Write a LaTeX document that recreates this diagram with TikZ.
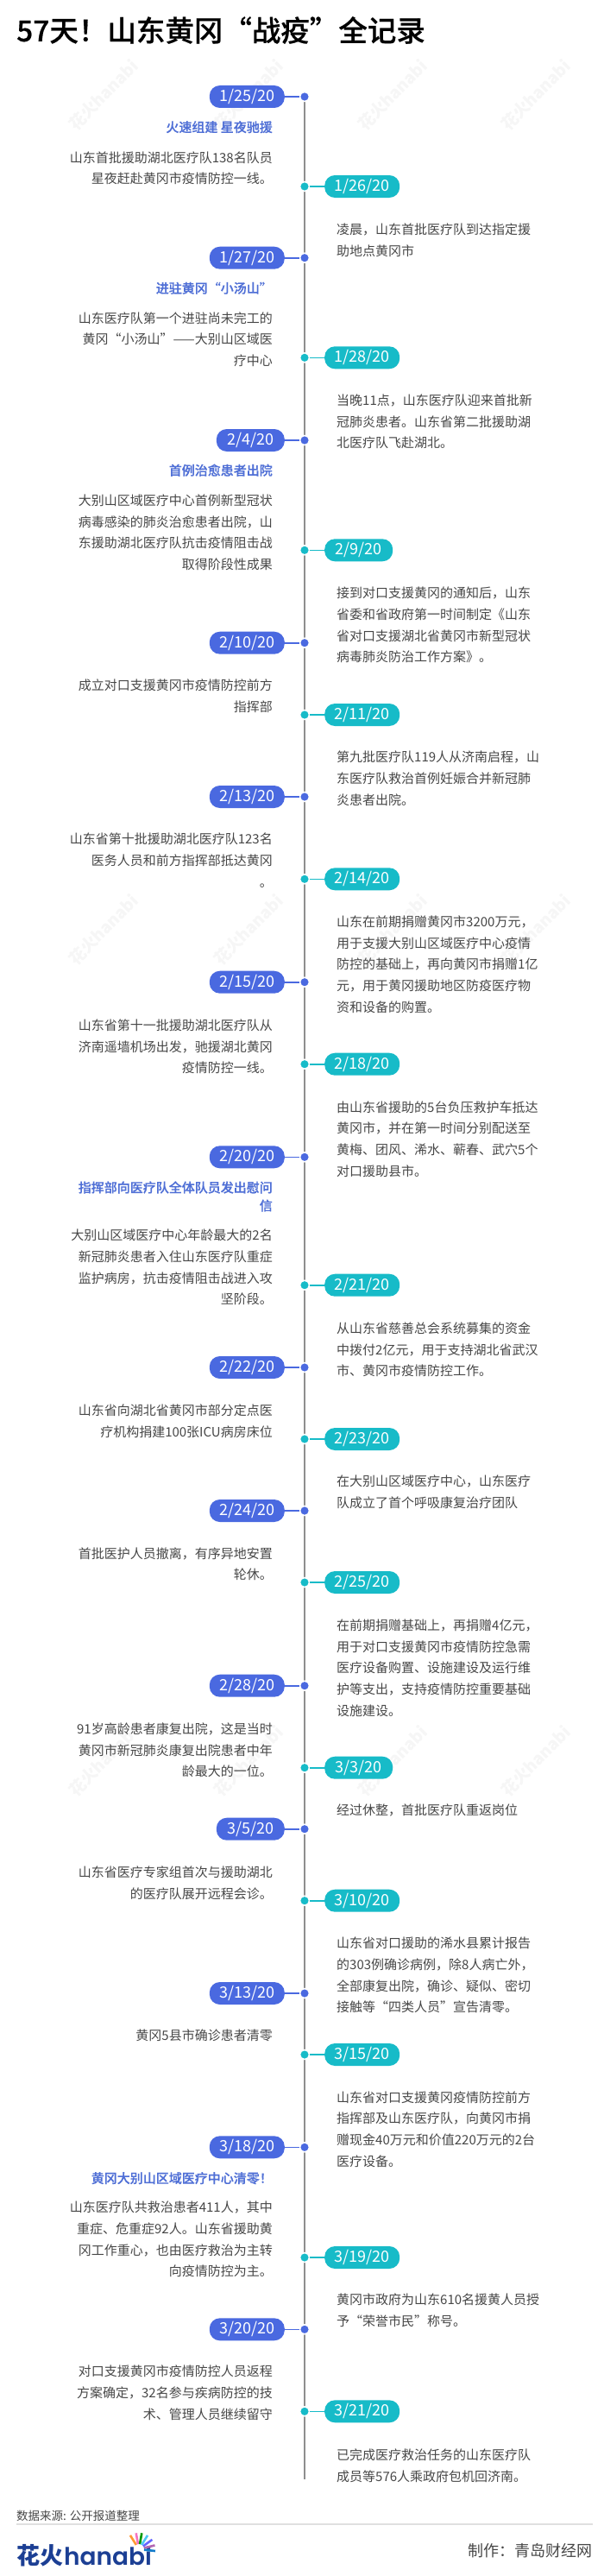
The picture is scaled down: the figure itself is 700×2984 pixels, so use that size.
\documentclass[tikz,border=0pt]{standalone}
\usepackage{fontspec}
\setmainfont{Noto Sans CJK SC}
\newfontfamily\medf{Noto Sans CJK SC Medium}[FakeBold=0.5]
\newfontfamily\logolat{Poppins}[UprightFont=* SemiBold]
\definecolor{leftc}{HTML}{4A69E0}
\definecolor{rightc}{HTML}{17BBC8}
\definecolor{bodyc}{HTML}{474747}
\definecolor{subc}{HTML}{4F6FD6}
\definecolor{spinec}{HTML}{8E8E8E}
\definecolor{markc}{HTML}{F6F6F6}
\definecolor{logoc}{HTML}{1C3F94}
\tikzset{
  x=1pt,y=-1pt,
  pillbase/.style={rectangle,rounded corners=12pt,minimum height=26pt,inner sep=0pt,text=white,font=\fontsize{18}{20}\selectfont},
  lpillst/.style={pillbase,fill=leftc,anchor=east},
  rpillst/.style={pillbase,fill=rightc,anchor=west},
  dotl/.style={circle,fill=leftc,draw=white,line width=1.5pt,minimum size=11pt,inner sep=0pt},
  dotr/.style={circle,fill=rightc,draw=white,line width=1.5pt,minimum size=11pt,inner sep=0pt},
  linkl/.style={draw=leftc,line width=1.6pt},
  linkr/.style={draw=rightc,line width=1.6pt},
  bodyl/.style={anchor=north east,align=right,inner sep=0pt,text=bodyc,font=\fontsize{15}{24.7}\selectfont},
  bodyr/.style={anchor=north west,align=left,inner sep=0pt,text=bodyc,font=\fontsize{15}{24.7}\selectfont},
  subt/.style={anchor=north east,align=right,inner sep=0pt,text=subc,font=\fontsize{15}{21}\selectfont\medf},
  spine/.style={draw=spinec,line width=1.6pt},
  wmark/.style={rotate=45,text=markc,font=\fontsize{19}{20}\selectfont\bfseries,inner sep=0pt},
}
\newcommand{\lft}[4]{%
  \node[dotl] (d#1) at (353,#3) {};
  \node[lpillst,minimum width=#4pt] (p#1) at (330,#3) {#2};
  \draw[linkl] (p#1.east) -- (d#1.west);
}
\newcommand{\rgt}[4]{%
  \node[dotr] (d#1) at (353,#3) {};
  \node[rpillst,minimum width=#4pt] (p#1) at (376,#3) {#2};
  \draw[linkr] (d#1.east) -- (p#1.west);
}
\newcommand{\st}{\rule{0pt}{12.5pt}}
% first-line centre y -> node top = y - 6.8
\newcommand{\tl}[3]{\node[bodyl] (t#1) at (316,{#2-6.8}) {\st #3};}
\newcommand{\tr}[3]{\node[bodyr] (t#1) at (390,{#2-6.8}) {\st #3};}
\newcommand{\sbt}[3]{\node[subt] (s#1) at (316,{#2-6.8}) {\st #3};}
\begin{document}
\begin{tikzpicture}
\useasboundingbox (0,0) rectangle (700,2984);
\fill[white] (0,0) rectangle (700,2984);
% watermarks
\foreach \wy/\wn in {110/a,1077/b,2040/c}{
  \node[wmark] (wm1\wn) at (120,\wy) {花火hanabi};
  \node[wmark] (wm2\wn) at (288,\wy) {花火hanabi};
  \node[wmark] (wm3\wn) at (455,\wy) {花火hanabi};
  \node[wmark] (wm4\wn) at (621,\wy) {花火hanabi};
}
\node[anchor=west,inner sep=0pt,font=\fontsize{33.5}{36}\selectfont\medf,text=black] (title) at (19,35) {57天！山东黄冈“战疫”全记录};
% spine
\coordinate (top) at (353,112);
\coordinate (bot) at (353,2872);
\draw[spine] (top) -- (bot);
% dates
\lft{a}{1/25/20}{112}{87}
\rgt{b}{1/26/20}{216}{87}
\lft{c}{1/27/20}{298.7}{87}
\rgt{d}{1/28/20}{414.3}{87}
\lft{e}{2/4/20}{510}{79}
\rgt{f}{2/9/20}{637.3}{79}
\lft{g}{2/10/20}{744.7}{87}
\rgt{h}{2/11/20}{828}{87}
\lft{i}{2/13/20}{923}{87}
\rgt{j}{2/14/20}{1018.3}{87}
\lft{k}{2/15/20}{1137.7}{87}
\rgt{l}{2/18/20}{1232.7}{87}
\lft{m}{2/20/20}{1340.3}{87}
\rgt{n}{2/21/20}{1488.7}{87}
\lft{o}{2/22/20}{1584}{87}
\rgt{q}{2/23/20}{1667}{87}
\lft{r}{2/24/20}{1750}{87}
\rgt{s}{2/25/20}{1833}{87}
\lft{u}{2/28/20}{1952.7}{87}
\rgt{v}{3/3/20}{2047.7}{79}
\lft{w}{3/5/20}{2118.7}{79}
\rgt{x}{3/10/20}{2201.7}{87}
\lft{y}{3/13/20}{2309}{87}
\rgt{z}{3/15/20}{2380}{87}
\lft{A}{3/18/20}{2487.3}{87}
\rgt{B}{3/19/20}{2615}{87}
\lft{C}{3/20/20}{2698.3}{87}
\rgt{D}{3/21/20}{2793.3}{87}
% texts
\sbt{a}{146.7}{火速组建 星夜驰援}
\tl{a}{182}{山东首批援助湖北医疗队138名队员\\星夜赶赴黄冈市疫情防控一线。}
\tr{b}{265.3}{凌晨，山东首批医疗队到达指定援\\助地点黄冈市}
\sbt{c}{333.3}{进驻黄冈“小汤山”}
\tl{c}{368}{山东医疗队第一个进驻尚未完工的\\黄冈“小汤山”——大别山区域医\\疗中心}
\tr{d}{463.3}{当晚11点，山东医疗队迎来首批新\\冠肺炎患者。山东省第二批援助湖\\北医疗队飞赴湖北。}
\sbt{e}{544.3}{首例治愈患者出院}
\tl{e}{579.3}{大别山区域医疗中心首例新型冠状\\病毒感染的肺炎治愈患者出院，山\\东援助湖北医疗队抗击疫情阻击战\\取得阶段性成果}
\tr{f}{686.7}{接到对口支援黄冈的通知后，山东\\省委和省政府第一时间制定《山东\\省对口支援湖北省黄冈市新型冠状\\病毒肺炎防治工作方案》。}
\tl{g}{793.3}{成立对口支援黄冈市疫情防控前方\\指挥部}
\tr{h}{876.7}{第九批医疗队119人从济南启程，山\\东医疗队救治首例妊娠合并新冠肺\\炎患者出院。}
\tl{i}{971.7}{山东省第十批援助湖北医疗队123名\\医务人员和前方指挥部抵达黄冈\\。}
\tr{j}{1067.3}{山东在前期捐赠黄冈市3200万元，\\用于支援大别山区域医疗中心疫情\\防控的基础上，再向黄冈市捐赠1亿\\元，用于黄冈援助地区防疫医疗物\\资和设备的购置。}
\tl{k}{1187.3}{山东省第十一批援助湖北医疗队从\\济南遥墙机场出发，驰援湖北黄冈\\疫情防控一线。}
\tr{l}{1282}{由山东省援助的5台负压救护车抵达\\黄冈市，并在第一时间分别配送至\\黄梅、团风、浠水、蕲春、武穴5个\\对口援助县市。}
\sbt{m}{1375}{指挥部向医疗队全体队员发出慰问\\信}
\tl{m}{1430.7}{大别山区域医疗中心年龄最大的2名\\新冠肺炎患者入住山东医疗队重症\\监护病房，抗击疫情阻击战进入攻\\坚阶段。}
\tr{n}{1538.3}{从山东省慈善总会系统募集的资金\\中拨付2亿元，用于支持湖北省武汉\\市、黄冈市疫情防控工作。}
\tl{o}{1633.3}{山东省向湖北省黄冈市部分定点医\\疗机构捐建100张ICU病房床位}
\tr{q}{1715.7}{在大别山区域医疗中心，山东医疗\\队成立了首个呼吸康复治疗团队}
\tl{r}{1799}{首批医护人员撤离，有序异地安置\\轮休。}
\tr{s}{1882.3}{在前期捐赠基础上，再捐赠4亿元，\\用于对口支援黄冈市疫情防控急需\\医疗设备购置、设施建设及运行维\\护等支出，支持疫情防控重要基础\\设施建设。}
\tl{u}{2002.3}{91岁高龄患者康复出院，这是当时\\黄冈市新冠肺炎康复出院患者中年\\龄最大的一位。}
\tr{v}{2096.7}{经过休整，首批医疗队重返岗位}
\tl{w}{2168.3}{山东省医疗专家组首次与援助湖北\\的医疗队展开远程会诊。}
\tr{x}{2250.7}{山东省对口援助的浠水县累计报告\\的303例确诊病例，除8人病亡外，\\全部康复出院，确诊、疑似、密切\\接触等“四类人员”宣告清零。}
\tl{y}{2357.7}{黄冈5县市确诊患者清零}
\tr{z}{2429}{山东省对口支援黄冈疫情防控前方\\指挥部及山东医疗队，向黄冈市捐\\赠现金40万元和价值220万元的2台\\医疗设备。}
\sbt{A}{2522.7}{黄冈大别山区域医疗中心清零！}
\tl{A}{2556.7}{山东医疗队共救治患者411人，其中\\重症、危重症92人。山东省援助黄\\冈工作重心，也由医疗救治为主转\\向疫情防控为主。}
\tr{B}{2663.3}{黄冈市政府为山东610名援黄人员授\\予“荣誉市民”称号。}
\tl{C}{2746.7}{对口支援黄冈市疫情防控人员返程\\方案确定，32名参与疾病防控的技\\术、管理人员继续留守}
\tr{D}{2843.3}{已完成医疗救治任务的山东医疗队\\成员等576人乘政府包机回济南。}
% footer
\node[anchor=west,inner sep=0pt,text=bodyc,font=\fontsize{13.5}{16}\selectfont] (src) at (19,2914) {数据来源: 公开报道整理};
\coordinate (ruleL) at (19,2924);
\coordinate (ruleR) at (687,2924);
\draw[draw=black!12,line width=1.6pt] (ruleL) -- (ruleR);
\node[anchor=east,inner sep=0pt,text=bodyc,font=\fontsize{18}{20}\selectfont] (made) at (687,2955) {制作：青岛财经网};
\node[anchor=west,inner sep=0pt,text=logoc,font=\fontsize{27}{30}\selectfont\bfseries] (logoa) at (19,2960) {花火};
\node[anchor=base west,inner sep=0pt,text=logoc,font=\fontsize{28}{30}\logolat\selectfont] (logob) at (74,2971.5) {hanabi};
\coordinate (ray) at (161,2953);
\foreach \ang/\col in {122/orange!80,100/magenta!55,80/green!60!black,58/cyan!70,36/blue!60,14/violet!60,-6/cyan!60!blue}{
  \draw[\col,line width=2.6pt] (ray) ++(\ang:6pt) -- ++(\ang:13pt);
}
\end{tikzpicture}
\end{document}
